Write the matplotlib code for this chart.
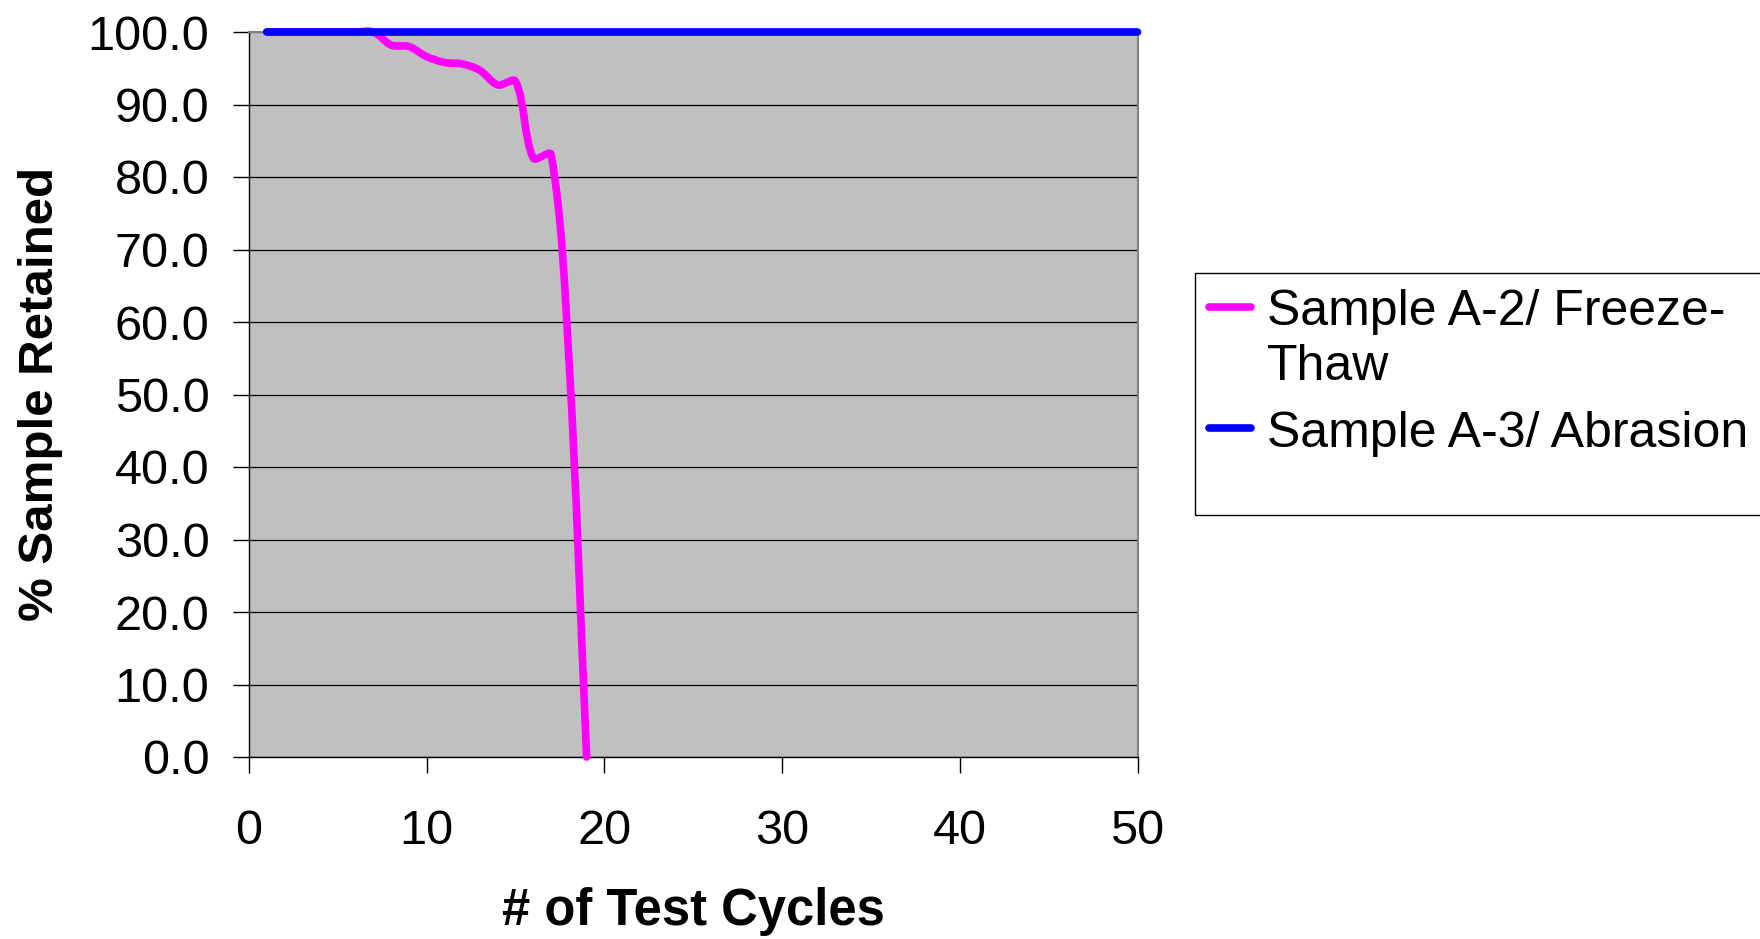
import numpy as np
import matplotlib
matplotlib.use('Agg')
import matplotlib.pyplot as plt
from matplotlib.path import Path
from matplotlib.patches import PathPatch, Rectangle
from matplotlib.lines import Line2D

plt.rcParams['font.family'] = ['Liberation Sans', 'DejaVu Sans']

# 数据
cycles_a2 = [1, 2, 3, 4, 5, 6, 7, 8, 9, 10, 11, 12, 13, 14, 15, 16, 17, 18, 19]
retained_a2 = [100.0, 100.0, 100.0, 100.0, 100.0, 100.0, 100.0, 98.2, 98.0, 96.6,
               95.8, 95.6, 94.7, 92.7, 93.2, 82.6, 83.1, 55.0, 0.0]
cycles_a3 = list(range(1, 51))
retained_a3 = [100.0] * 50

series_labels = ['Sample A-2/ Freeze-\nThaw', 'Sample A-3/ Abrasion']
series_colors = ['#FF00FF', '#0000FF']
y_ticks = [0, 10, 20, 30, 40, 50, 60, 70, 80, 90, 100]
x_ticks = [0, 10, 20, 30, 40, 50]


def smooth_path(ax, x, y, t=1.0 / 3):
    """Excel风格的平滑折线：在像素空间按线段长度加权的Bezier"""
    pts = ax.transData.transform(np.column_stack([x, y]).astype(float))
    n = len(pts)
    c_in = np.zeros_like(pts)
    c_out = np.zeros_like(pts)
    for i in range(n):
        prev = pts[max(i - 1, 0)]
        nxt = pts[min(i + 1, n - 1)]
        d = nxt - prev
        l0 = np.hypot(*(pts[i] - prev))
        l1 = np.hypot(*(nxt - pts[i]))
        s = l0 + l1 if l0 + l1 > 0 else 1.0
        c_in[i] = pts[i] - d * t * l0 / s
        c_out[i] = pts[i] + d * t * l1 / s
    verts = [pts[0]]
    codes = [Path.MOVETO]
    for i in range(n - 1):
        verts += [c_out[i], c_in[i + 1], pts[i + 1]]
        codes += [Path.CURVE4] * 3
    verts = ax.transData.inverted().transform(np.array(verts))
    return Path(verts, codes)


W, H = 1760, 939
fig = plt.figure(figsize=(W / 100, H / 100), dpi=100)
ax = fig.add_axes([249 / W, 1 - 757 / H, (1137.5 - 249) / W, (757 - 32) / H])
ax.set_facecolor('#C0C0C0')
ax.set_xlim(0, 50)
ax.set_ylim(0, 100)

lw = 5.5
for xs, ys, c in [(cycles_a2, retained_a2, series_colors[0]),
                  (cycles_a3, retained_a3, series_colors[1])]:
    patch = PathPatch(smooth_path(ax, xs, ys), facecolor='none', edgecolor=c,
                      linewidth=lw, capstyle='round', joinstyle='round',
                      clip_on=False, zorder=3)
    ax.add_patch(patch)

ax.set_xticks(x_ticks)
ax.set_yticks(y_ticks)
ax.set_yticklabels([f'{v:.1f}' for v in y_ticks])
ax.yaxis.grid(True, color='black', linewidth=0.9)
ax.set_axisbelow(True)

ax.tick_params(axis='both', direction='out', length=11.5, width=1,
               labelsize=35, colors='black')
ax.tick_params(axis='y', pad=17)
ax.tick_params(axis='x', pad=26)

for s in ['left', 'bottom']:
    ax.spines[s].set_color('black')
    ax.spines[s].set_linewidth(1)
for s in ['top', 'right']:
    ax.spines[s].set_color('#808080')
    ax.spines[s].set_linewidth(1.5)

fig.text(41 / W, 1 - 394 / H, '% Sample Retained', rotation=90, fontsize=35.5,
         fontweight='bold', ha='center', va='center')
fig.text(693 / W, 1 - 912 / H, '# of Test Cycles', fontsize=36.5,
         fontweight='bold', ha='center', va='center')

# 图例
fig.patches.append(Rectangle((1195 / W, 1 - 515 / H), 600 / W, (515 - 273) / H,
                             transform=fig.transFigure, facecolor='white',
                             edgecolor='black', linewidth=1))
handle_y = [307, 428]
baselines = [[325, 380], [447]]
for label, c, hy, bl in zip(series_labels, series_colors, handle_y, baselines):
    fig.lines.append(Line2D([1209 / W, 1251 / W], [1 - hy / H, 1 - hy / H],
                            transform=fig.transFigure, color=c, linewidth=lw,
                            solid_capstyle='round'))
    for line, b in zip(label.split('\n'), bl):
        fig.text(1267 / W, 1 - b / H, line, fontsize=36, ha='left', va='baseline')

fig.savefig('out.png', dpi=100)
